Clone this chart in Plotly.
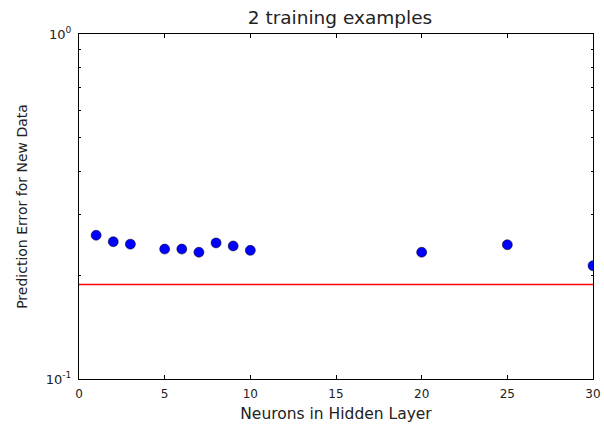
import plotly.graph_objects as go

# Prediction error vs. number of hidden neurons
neurons = [1, 2, 3, 5, 6, 7, 8, 9, 10, 20, 25, 30]
pred_error = [0.261, 0.250, 0.246, 0.238, 0.238, 0.233, 0.248, 0.243, 0.236, 0.233, 0.245, 0.213]

# Baseline error level drawn as a horizontal line
baseline_x = [0, 30]
baseline_error = [0.188, 0.188]

x_ticks = [0, 5, 10, 15, 20, 25, 30]
y_ticks = [0.1, 1]
y_ticktext = ["10<sup>-1</sup>", "10<sup>0</sup>"]
y_minor = [0.2, 0.3, 0.4, 0.5, 0.6, 0.7, 0.8, 0.9]

FONT = "DejaVu Sans, sans-serif"

fig = go.Figure()
fig.add_trace(go.Scatter(
    x=neurons, y=pred_error, mode="markers",
    marker=dict(color="#0000ff", size=10, line=dict(color="black", width=0.5)),
    showlegend=False,
))
fig.add_trace(go.Scatter(
    x=baseline_x, y=baseline_error, mode="lines",
    line=dict(color="#ff0000", width=1.5),
    showlegend=False,
))

fig.update_layout(
    width=604, height=427,
    margin=dict(l=79, r=3, t=34, b=48),
    paper_bgcolor="white", plot_bgcolor="white",
    font=dict(family=FONT, size=12, color="#222222"),
    title=dict(text="2 training examples", x=(79 + 601) / 2 / 604, xref="container",
               y=1 - 18 / 427, yref="container",
               xanchor="center", yanchor="middle", font=dict(size=18.5, color="#222222")),
)
fig.update_xaxes(
    range=[0, 30], tickvals=x_ticks, ticks="inside", ticklen=4, tickwidth=1,
    tickcolor="black", showline=True, linecolor="black", linewidth=1,
    mirror="ticks", showgrid=False, zeroline=False,
    tickfont=dict(size=12), ticklabelstandoff=4, ticklabeloverflow="allow",
    title=dict(text="Neurons in Hidden Layer", font=dict(size=15.5), standoff=7),
)
fig.update_yaxes(
    type="log", range=[-1, 0], tickvals=y_ticks, ticktext=y_ticktext,
    ticks="inside", ticklen=4, tickwidth=1, tickcolor="black",
    showline=True, linecolor="black", linewidth=1, mirror="ticks",
    showgrid=False, zeroline=False, tickfont=dict(size=13),
    ticklabelstandoff=4, ticklabeloverflow="allow",
    minor=dict(tickvals=y_minor, ticks="inside", ticklen=2, tickcolor="black", showgrid=False),
    title=dict(text="Prediction Error for New Data", font=dict(size=14), standoff=14),
)

fig.write_html("out.html")
